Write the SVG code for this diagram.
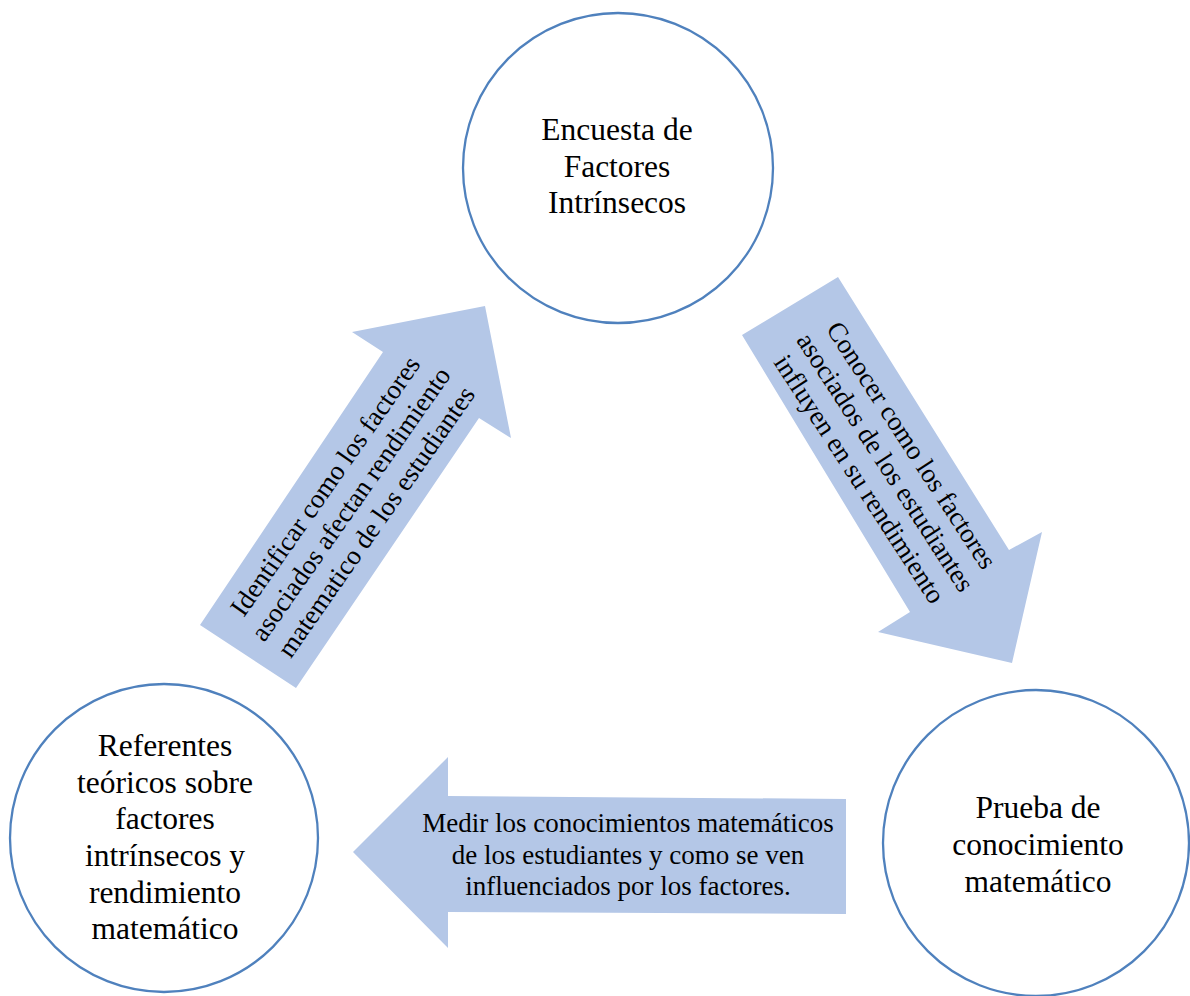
<svg xmlns="http://www.w3.org/2000/svg" width="1190" height="996" viewBox="0 0 1190 996">
<style>
.node{fill:#FFFFFF;stroke:#4F81BD;stroke-width:2.3}
.arrow{fill:#B4C7E7;stroke:none}
.nt{font-family:"Liberation Serif","Times New Roman",serif;font-size:31.5px;fill:#000;text-anchor:middle}
.at{font-family:"Liberation Serif","Times New Roman",serif;font-size:27px;fill:#000;text-anchor:middle}
</style>
<rect width="1190" height="996" fill="#FFFFFF"/>
<g id="connectors">
<g id="arrow-left">
<polygon class="arrow" points="485,306 511,438 479,418 296,688 200,625 383,352 352,332"/>
<g transform="translate(358,509) rotate(-55)">
<text class="at" x="0" y="-31">Identificar como los factores</text>
<text class="at" x="0" y="0">asociados afectan rendimiento</text>
<text class="at" x="0" y="31">matematico de los estudiantes</text>
</g>
</g>
<g id="arrow-right">
<polygon class="arrow" points="838,277 1009,550 1042,532 1012,663 878,632 910,612 742,335"/>
<g transform="translate(878,467) rotate(57)">
<text class="at" x="0" y="-31">Conocer como los factores</text>
<text class="at" x="0" y="0">asociados de los estudiantes</text>
<text class="at" x="0" y="31">influyen en su rendimiento</text>
</g>
</g>
<g id="arrow-bottom">
<polygon class="arrow" points="353,852 448,757 448,796 846,799 846,914 448,912 448,948"/>
<text class="at" x="628" y="832">Medir los conocimientos matemáticos</text>
<text class="at" x="628" y="864">de los estudiantes y como se ven</text>
<text class="at" x="628" y="895">influenciados por los factores.</text>
</g>
</g>
<g id="node-encuesta">
<circle class="node" cx="618" cy="168" r="155"/>
<text class="nt" x="617" y="140">Encuesta de</text>
<text class="nt" x="617" y="177">Factores</text>
<text class="nt" x="617" y="213">Intrínsecos</text>
</g>
<g id="node-referentes">
<circle class="node" cx="164" cy="838" r="154"/>
<text class="nt" x="165" y="756">Referentes</text>
<text class="nt" x="165" y="793">teóricos sobre</text>
<text class="nt" x="165" y="829">factores</text>
<text class="nt" x="165" y="866">intrínsecos y</text>
<text class="nt" x="165" y="903">rendimiento</text>
<text class="nt" x="165" y="939">matemático</text>
</g>
<g id="node-prueba">
<circle class="node" cx="1036" cy="843" r="153"/>
<text class="nt" x="1038" y="818">Prueba de</text>
<text class="nt" x="1038" y="855">conocimiento</text>
<text class="nt" x="1038" y="892">matemático</text>
</g>
</svg>
